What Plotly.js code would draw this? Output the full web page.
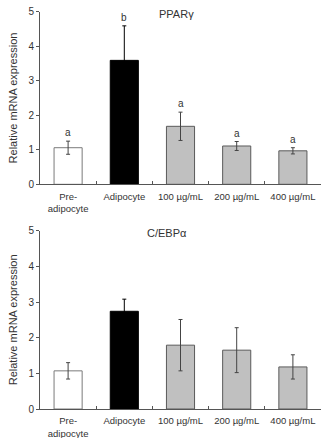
<!DOCTYPE html>
<html>
<head>
<meta charset="utf-8">
<script src="https://cdn.plot.ly/plotly-3.0.1.min.js"></script>
<style>
  html, body { margin: 0; padding: 0; background: #fff; }
  #chart { width: 322px; height: 438px; }
</style>
</head>
<body>
<div id="chart"></div>
<script>
// Treatment groups shown on both panels
const categories = ['Pre-<br>adipocyte', 'Adipocyte', '100 µg/mL', '200 µg/mL', '400 µg/mL'];

// PPARγ relative expression (mean ± SD) and significance letters
const ppargMean = [1.06, 3.59, 1.68, 1.11, 0.97];
const ppargErr = [0.19, 1.00, 0.41, 0.13, 0.09];
const ppargLetters = ['a', 'b', 'a', 'a', 'a'];

// C/EBPα relative expression (mean ± SD)
const cebpaMean = [1.07, 2.74, 1.79, 1.65, 1.18];
const cebpaErr = [0.23, 0.34, 0.72, 0.63, 0.34];

// Bar fill / outline per group
const fills = ['#ffffff', '#000000', '#c0c0c0', '#c0c0c0', '#c0c0c0'];
const outlines = ['#7a7a7a', '#000000', '#5a5a5a', '#5a5a5a', '#5a5a5a'];
const errColors = ['#444444', '#000000', '#444444', '#444444', '#444444'];

const FONT = 'Liberation Sans, Arial, sans-serif';
const TXT = '#333333';

function panelTraces(means, errs, xa, ya) {
  return categories.map((c, i) => ({
    type: 'bar',
    x: [c],
    y: [means[i]],
    xaxis: xa,
    yaxis: ya,
    width: 0.5,
    marker: { color: fills[i], line: { color: outlines[i], width: 1 } },
    error_y: { type: 'data', array: [errs[i]], visible: true,
               color: errColors[i], thickness: 1, width: 2 },
    hoverinfo: 'x+y',
    showlegend: false
  }));
}

const data = [].concat(
  panelTraces(ppargMean, ppargErr, 'x', 'y'),
  panelTraces(cebpaMean, cebpaErr, 'x2', 'y2')
);

function xAxis(anchor) {
  return {
    anchor: anchor,
    domain: [0, 1],
    type: 'category',
    categoryorder: 'array',
    categoryarray: categories,
    range: [-0.5, 4.5],
    tickson: 'boundaries',
    tickangle: 0,
    ticks: 'inside',
    ticklen: 3,
    tickcolor: '#555',
    ticklabelstandoff: 3,
    showline: true,
    linecolor: '#555',
    linewidth: 1,
    showgrid: false,
    zeroline: false,
    tickfont: { family: FONT, size: 9.5, color: TXT },
    fixedrange: true
  };
}

function yAxis(domain, anchor) {
  return {
    anchor: anchor,
    domain: domain,
    range: [0, 5],
    dtick: 1,
    ticks: 'outside',
    ticklen: 3,
    tickcolor: '#555',
    showline: true,
    linecolor: '#555',
    linewidth: 1,
    showgrid: false,
    zeroline: false,
    tickfont: { family: FONT, size: 10, color: TXT },
    title: { text: 'Relative mRNA expression', font: { family: FONT, size: 11, color: TXT }, standoff: 8 },
    fixedrange: true
  };
}

// Significance letters above each error bar (top panel)
const letterAnnotations = categories.map((c, i) => ({
  xref: 'x', yref: 'y',
  x: c, y: ppargMean[i] + ppargErr[i],
  text: ppargLetters[i],
  showarrow: false,
  yanchor: 'bottom',
  yshift: 1,
  font: { family: FONT, size: 10, color: TXT }
}));

const layout = {
  width: 322,
  height: 438,
  margin: { l: 40, r: 1, t: 0, b: 0 },
  paper_bgcolor: '#ffffff',
  plot_bgcolor: '#ffffff',
  barmode: 'overlay',
  xaxis: xAxis('y'),
  yaxis: yAxis([0.5792, 0.9733], 'x'),
  xaxis2: xAxis('y2'),
  yaxis2: yAxis([0.0662, 0.4733], 'x2'),
  annotations: letterAnnotations.concat([
    { xref: 'paper', yref: 'paper', x: 0.4875, y: 0.9863, text: 'PPARγ',
      showarrow: false, font: { family: FONT, size: 11, color: TXT } },
    { xref: 'paper', yref: 'paper', x: 0.452, y: 0.4674, text: 'C/EBPα',
      showarrow: false, font: { family: FONT, size: 11, color: TXT } }
  ])
};

Plotly.newPlot('chart', data, layout, { displayModeBar: false, staticPlot: true });
</script>
</body>
</html>
